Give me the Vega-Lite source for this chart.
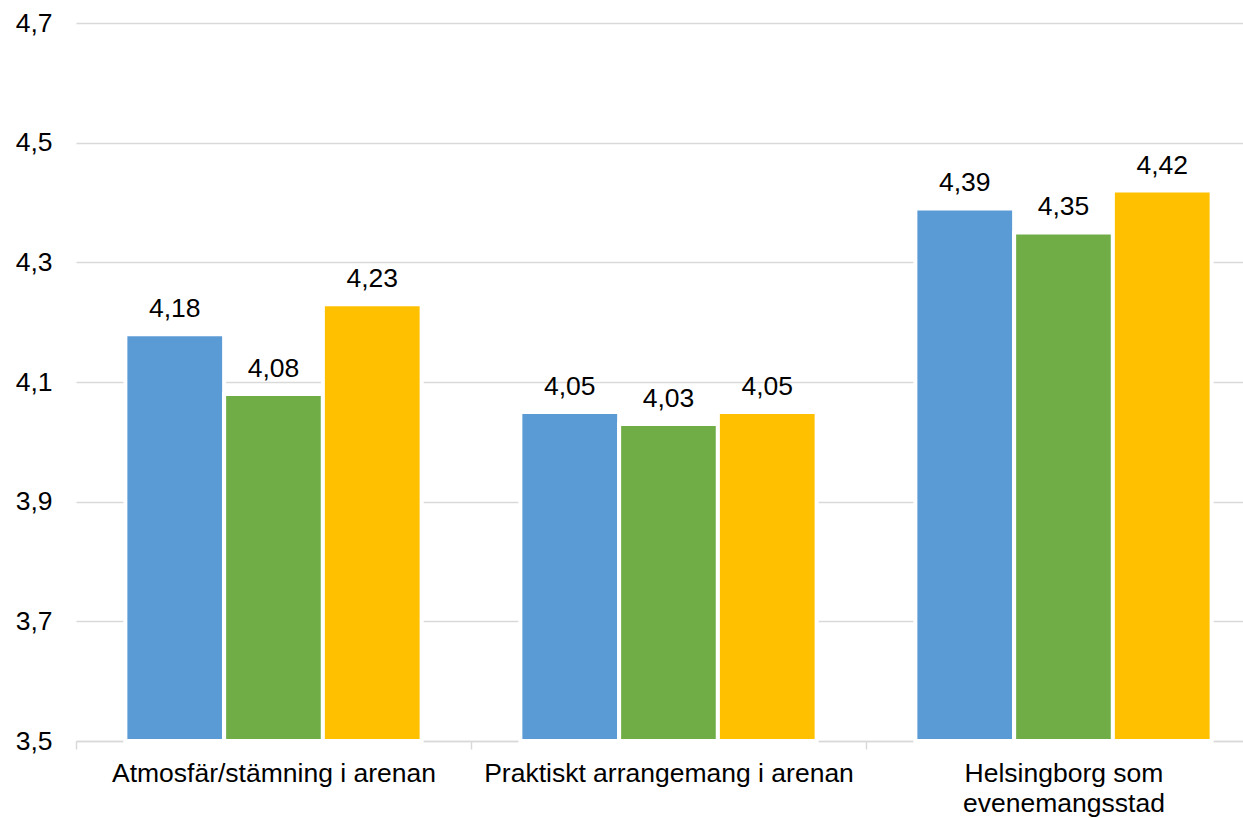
{
  "$schema": "https://vega.github.io/schema/vega-lite/v6.json",
  "autosize": "none",
  "width": 1185,
  "height": 718,
  "padding": {"left": 76, "top": 23, "right": 0, "bottom": 77},
  "background": "white",
  "data": {
    "values": [
      {"kategori": "Atmosfär/stämning i arenan", "serie": "A", "varde": 4.18},
      {"kategori": "Atmosfär/stämning i arenan", "serie": "B", "varde": 4.08},
      {"kategori": "Atmosfär/stämning i arenan", "serie": "C", "varde": 4.23},
      {"kategori": "Praktiskt arrangemang i arenan", "serie": "A", "varde": 4.05},
      {"kategori": "Praktiskt arrangemang i arenan", "serie": "B", "varde": 4.03},
      {"kategori": "Praktiskt arrangemang i arenan", "serie": "C", "varde": 4.05},
      {"kategori": "Helsingborg som evenemangsstad", "serie": "A", "varde": 4.39},
      {"kategori": "Helsingborg som evenemangsstad", "serie": "B", "varde": 4.35},
      {"kategori": "Helsingborg som evenemangsstad", "serie": "C", "varde": 4.42}
    ]
  },
  "encoding": {
    "x": {
      "field": "kategori", "type": "nominal", "sort": null,
      "scale": {"paddingInner": 0, "paddingOuter": 0},
      "axis": {
        "title": null, "labelAngle": 0, "tickBand": "extent",
        "tickSize": 8, "tickColor": "#D9D9D9", "tickWidth": 1.5,
        "domainColor": "#D9D9D9", "domainWidth": 1.5,
        "labelFont": "Liberation Sans", "labelFontSize": 26.5, "labelColor": "#000000",
        "labelPadding": 11, "labelLimit": 0, "labelLineHeight": 30,
        "labelExpr": "datum.label == 'Helsingborg som evenemangsstad' ? ['Helsingborg som', 'evenemangsstad'] : datum.label",
        "grid": false
      }
    },
    "xOffset": {"field": "serie", "type": "nominal", "scale": {"paddingInner": 0, "paddingOuter": 0.5}},
    "y": {
      "field": "varde", "type": "quantitative",
      "scale": {"domain": [3.5, 4.7], "nice": false, "zero": false},
      "axis": {
        "title": null, "values": [3.5, 3.7, 3.9, 4.1, 4.3, 4.5, 4.7],
        "format": ".1f", "domain": false, "ticks": false,
        "grid": true, "gridColor": "#D9D9D9", "gridWidth": 1.5,
        "labelFont": "Liberation Sans", "labelFontSize": 26.5, "labelColor": "#000000",
        "labelPadding": 24
      }
    }
  },
  "layer": [
    {
      "mark": {"type": "bar", "stroke": "white", "strokeWidth": 4},
      "encoding": {
        "y2": {"datum": 3.5},
        "color": {
          "field": "serie", "type": "nominal", "legend": null,
          "scale": {"domain": ["A", "B", "C"], "range": ["#5B9BD5", "#70AD47", "#FFC000"]}
        }
      }
    },
    {
      "mark": {"type": "text", "baseline": "alphabetic", "dy": -17, "font": "Liberation Sans", "fontSize": 26.5, "color": "#000000"},
      "encoding": {
        "text": {"field": "varde", "type": "quantitative", "format": ".2f"}
      }
    }
  ],
  "config": {
    "view": {"stroke": null},
    "locale": {"number": {"decimal": ",", "thousands": " ", "grouping": [3], "currency": ["", " kr"]}}
  }
}
